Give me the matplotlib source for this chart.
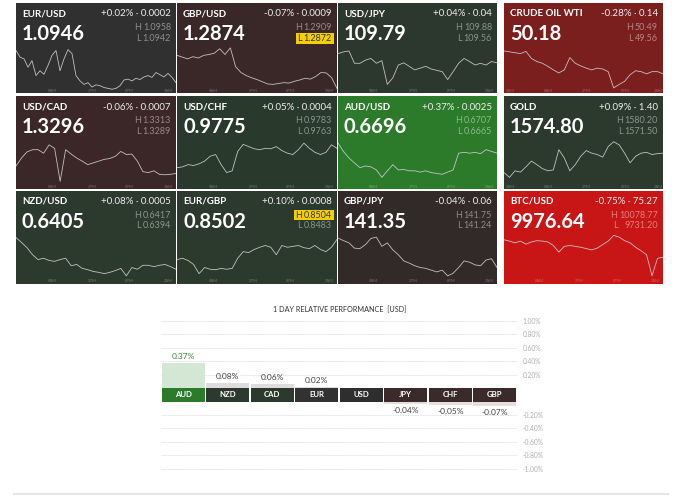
import numpy as np
import matplotlib
matplotlib.use("Agg")
import matplotlib.pyplot as plt
from matplotlib.patches import Rectangle
from matplotlib.lines import Line2D

plt.rcParams['font.family'] = ['Lato', 'DejaVu Sans']

W, H = 680, 499

# ---- tiles (row by row) ----
names = ['EUR/USD', 'GBP/USD', 'USD/JPY', 'CRUDE OIL WTI',
         'USD/CAD', 'USD/CHF', 'AUD/USD', 'GOLD',
         'NZD/USD', 'EUR/GBP', 'GBP/JPY', 'BTC/USD']
prices = ['1.0946', '1.2874', '109.79', '50.18',
          '1.3296', '0.9775', '0.6696', '1574.80',
          '0.6405', '0.8502', '141.35', '9976.64']
changes = ['+0.02% · 0.0002', '-0.07% · 0.0009', '+0.04% · 0.04', '-0.28% · 0.14',
           '-0.06% · 0.0007', '+0.05% · 0.0004', '+0.37% · 0.0025', '+0.09% · 1.40',
           '+0.08% · 0.0005', '+0.10% · 0.0008', '-0.04% · 0.06', '-0.75% · 75.27']
highs = ['1.0958', '1.2909', '109.88', '50.49',
         '1.3313', '0.9783', '0.6707', '1580.20',
         '0.6417', '0.8504', '141.75', '10078.77']
lows = ['1.0942', '1.2872', '109.56', '49.56',
        '1.3289', '0.9763', '0.6665', '1571.50',
        '0.6394', '0.8483', '141.24', '9731.20']
tile_colors = ['#303030', '#3a2828', '#2c372e', '#7a1e1e',
               '#3b2727', '#293a2c', '#2b7b2b', '#2b3a2d',
               '#2b3a2d', '#2b3a2d', '#322929', '#c81515']
highlight = {'GBP/USD': 'L', 'EUR/GBP': 'H'}

time_labels = ['8AM', '2PM', '8PM', '2AM']
time_pos = [0.225, 0.475, 0.71, 0.95]
time_labels_long = ['2AM', '8AM', '2PM', '8PM', '2AM']
time_pos_long = [0.04, 0.28, 0.52, 0.76, 0.97]

# sparkline levels (0 = bottom of band, 10 = top), evenly spaced over the day
spark_eurusd = [9.2, 7.7, 7.3, 5.4, 6.9, 3.5, 4.6, 3.8, 5.8, 8.1, 9.2, 4.6, 7.3, 9.4, 8.5,
                3.5, 2.3, 1.5, 1.9, 0.9, 1.4, 1.2, 0.8, 0.6, 0.4, 0.6, 1.2, 2.5, 2.7, 2.3,
                2.9, 2.6, 3.2, 3.5, 3.1, 4.2, 3.7, 3.2, 4.0, 3.1, 1.9]
spark_gbpusd = [8.1, 7.7, 7.3, 7.8, 7.5, 8.1, 8.3, 8.6, 9.6, 8.3, 9.8, 5.5, 4.2, 3.5, 3.0,
                2.6, 2.1, 1.6, 1.5, 1.7, 1.9, 1.8, 2.2, 2.5, 2.9, 2.7, 3.3, 4.2, 4.1, 3.0, 0.6]
spark_usdjpy = [8.5, 8.9, 9.1, 6.3, 6.3, 7.0, 7.4, 6.3, 6.9, 1.5, 3.0, 5.9, 6.4, 5.6, 4.8,
                5.2, 5.6, 5.0, 4.7, 4.4, 2.6, 4.4, 6.3, 7.4, 6.7, 5.9, 6.3, 5.9, 6.7, 6.4]
spark_crude = [9.1, 8.9, 8.7, 8.5, 9.0, 7.4, 6.7, 6.3, 5.6, 4.8, 4.1, 4.8, 7.6, 6.3, 5.7,
               5.2, 4.8, 5.2, 5.0, 4.4, 0.7, 1.5, 2.2, 3.7, 4.6, 4.4, 3.9, 4.4, 4.4, 3.9]
spark_usdcad = [4.1, 5.9, 7.3, 7.8, 7.8, 7.0, 8.9, 8.1, 0.6, 7.8, 6.8, 5.9, 5.2, 4.4, 4.8,
                5.2, 5.6, 5.8, 6.3, 7.4, 6.7, 6.8, 5.2, 2.8, 2.6, 3.0, 2.2, 2.1, 2.2, 2.4]
spark_usdchf = [3.7, 3.9, 4.4, 4.2, 4.6, 5.2, 6.3, 6.7, 4.4, 2.6, 3.0, 7.4, 9.0, 8.5, 8.0,
                7.8, 8.1, 8.0, 8.5, 7.6, 7.0, 6.7, 7.8, 9.3, 8.1, 7.2, 6.7, 7.2, 8.9, 8.1]
spark_audusd = [9.3, 7.4, 5.9, 4.8, 3.7, 4.1, 3.9, 3.2, 1.5, 3.0, 4.4, 3.2, 3.3, 3.0, 3.0,
                2.7, 3.0, 2.6, 2.4, 2.2, 2.7, 3.2, 7.0, 7.2, 7.0, 7.2, 6.9, 7.8, 7.4, 7.0]
spark_gold = [2.6, 1.5, 3.0, 2.7, 3.9, 5.2, 4.4, 3.5, 3.0, 3.2, 7.8, 5.9, 3.0, 4.4, 6.3,
              7.6, 7.0, 6.7, 6.1, 8.5, 9.6, 8.9, 7.0, 4.8, 6.3, 7.0, 7.2, 6.7, 6.9, 7.0]
spark_nzdusd = [9.3, 8.2, 7.0, 5.4, 4.3, 4.6, 4.1, 3.9, 4.3, 4.6, 2.9, 3.2, 2.3, 2.0, 1.6,
                1.4, 1.1, 1.4, 1.8, 2.3, 0.6, 2.5, 2.1, 3.0, 3.0, 2.7, 3.0, 3.2, 2.7, 2.1]
spark_eurgbp = [4.3, 4.6, 4.1, 3.2, 1.1, 2.5, 2.1, 2.0, 2.3, 2.1, 2.3, 4.6, 6.1, 5.9, 6.6,
                7.1, 7.5, 7.1, 5.4, 7.5, 7.1, 7.3, 7.5, 7.0, 6.8, 7.5, 6.6, 6.1, 7.1, 8.9]
spark_gbpjpy = [9.2, 8.6, 8.1, 6.9, 6.8, 7.7, 9.1, 9.4, 7.3, 8.1, 6.5, 5.4, 4.0, 3.5, 2.9,
                2.5, 2.3, 1.9, 1.5, 1.9, 0.6, 1.2, 2.5, 4.0, 3.7, 3.1, 2.9, 4.2, 4.5, 2.5]
spark_btc = [8.8, 8.5, 8.1, 8.5, 7.8, 8.3, 8.6, 8.5, 8.3, 7.5, 6.0, 7.3, 7.5, 7.3, 7.1,
             6.8, 6.5, 6.9, 7.7, 8.5, 9.8, 9.4, 8.6, 8.1, 7.1, 6.3, 5.4, 0.6, 4.6, 4.8]
sparks = [spark_eurusd, spark_gbpusd, spark_usdjpy, spark_crude,
          spark_usdcad, spark_usdchf, spark_audusd, spark_gold,
          spark_nzdusd, spark_eurgbp, spark_gbpjpy, spark_btc]

# ---- relative performance ----
cats = ['AUD', 'NZD', 'CAD', 'EUR', 'USD', 'JPY', 'CHF', 'GBP']
perf = [0.37, 0.08, 0.06, 0.02, 0.0, -0.04, -0.05, -0.07]
box_colors = ['#2b7b2b', '#2b3a2d', '#2b3a2d', '#323232', '#2e2e2e', '#3b2a2a', '#3a2a2a', '#3b2a2a']
perf_ticks = [0.2, 0.4, 0.6, 0.8, 1.0]


def px_rect(x, y, w, h):
    return [x / W, 1 - (y + h) / H, w / W, h / H]


fig = plt.figure(figsize=(W / 100, H / 100), dpi=100)
renderer = fig.canvas.get_renderer()

tile_left = [16, 177, 338, 504]
tile_width = [160, 160, 159, 159]
tile_top = [3, 96, 190.5]
tile_height = [90, 93, 93.5]

for k, name in enumerate(names):
    r, c = divmod(k, 4)
    x0, y0, w, h = tile_left[c], tile_top[r], tile_width[c], tile_height[r]
    ax = fig.add_axes(px_rect(x0, y0, w, h))
    ax.set_facecolor(tile_colors[k])
    ax.set_xlim(0, w)
    ax.set_ylim(h, 0)
    ax.set_xticks([])
    ax.set_yticks([])
    for s in ax.spines.values():
        s.set_visible(False)

    ax.text(6, 11, name, ha='left', va='center', fontsize=7, fontweight='bold', color='white')
    ax.text(w - 5, 11, changes[k], ha='right', va='center', fontsize=7, color='#eeeeee')
    ax.text(6, 31, prices[k], ha='left', va='center', fontsize=14.5, fontweight='bold', color='white')

    hl_y = {'H': 24.5, 'L': 35.5}
    vals = {'H': highs[k], 'L': lows[k]}
    texts = {}
    for key in ('H', 'L'):
        mark = highlight.get(name) == key
        col = '#333333' if mark else '#ffffff'
        al = 1.0 if mark else 0.45
        texts[key] = ax.text(w - 5, hl_y[key], vals[key], ha='right', va='center',
                             fontsize=6.5, color=col, alpha=al, zorder=3)
    maxw = max(t.get_window_extent(renderer=renderer).width for t in texts.values())
    for key in ('H', 'L'):
        mark = highlight.get(name) == key
        col = '#333333' if mark else '#ffffff'
        al = 1.0 if mark else 0.45
        lt = ax.text(w - 5 - maxw - 2, hl_y[key], key, ha='right', va='center',
                     fontsize=6.5, color=col, alpha=al, zorder=3)
        if mark:
            lw_ = lt.get_window_extent(renderer=renderer).width
            left = w - 5 - maxw - 2 - lw_ - 1.5
            ax.add_patch(Rectangle((left, hl_y[key] - 5.2), (w - 3.5) - left, 10.4,
                                   facecolor='#f5d000', edgecolor='none', zorder=2))

    if name in ('CRUDE OIL WTI', 'GOLD'):
        tl, tp = time_labels_long, time_pos_long
    else:
        tl, tp = time_labels, time_pos
    for lab, p in zip(tl, tp):
        ax.text(p * w, h - 2.5, lab, ha='center', va='center', fontsize=3,
                color='white', alpha=0.3)

    sp = ax.inset_axes([0, (h - 88) / h, 1, 44 / h])
    sp.patch.set_alpha(0)
    vals_sp = sparks[k]
    sp.plot(np.arange(len(vals_sp)), vals_sp, color='#d0d0d0', lw=0.6, alpha=0.9)
    sp.set_xlim(0, len(vals_sp) - 1)
    sp.set_ylim(0, 10)
    sp.axis('off')

# ---- performance chart ----
x = np.arange(len(cats))
pos_vals = [max(v, 0) for v in perf]
neg_vals = [min(v, 0) for v in perf]
bar_cols = ['#d4e7d4' if v >= 0.3 else ('#dddddd' if v > 0 else '#e8dddd') for v in perf]

zero_top, zero_bot = 388, 401.5
unit = 67
ax_pos = fig.add_axes(px_rect(161, zero_top - unit * 1.02, 356, unit * 1.02))
ax_neg = fig.add_axes(px_rect(161, zero_bot, 356, unit * 1.02))
ax_pos.bar(x, pos_vals, width=0.96, color=bar_cols, zorder=2)
ax_neg.bar(x, neg_vals, width=0.96, color=bar_cols, zorder=2)
ax_pos.set_ylim(0, 1.02)
ax_neg.set_ylim(-1.02, 0)
ax_pos.set_yticks(perf_ticks)
ax_neg.set_yticks([-t for t in perf_ticks])
for a in (ax_pos, ax_neg):
    a.set_xlim(-0.5, len(cats) - 0.5)
    a.set_xticks([])
    a.patch.set_alpha(0)
    for s in a.spines.values():
        s.set_visible(False)
    a.yaxis.tick_right()
    a.set_yticklabels([f'{t:.2f}%' for t in a.get_yticks()])
    a.tick_params(axis='y', length=0, pad=4, labelsize=4.8, labelcolor='#b0b0b0')
    a.grid(axis='y', linestyle=(0, (1, 1)), color='#d5d5d5', lw=0.6, zorder=0)
    a.set_axisbelow(True)

for i, v in enumerate(perf):
    if v > 0:
        ax_pos.annotate(f'{v:.2f}%', (i, v), xytext=(0, 2), textcoords='offset points',
                        ha='center', va='bottom', fontsize=6,
                        color='#3a8a3a' if i == 0 else '#444444')
    elif v < 0:
        ax_neg.annotate(f'{v:.2f}%', (i, v), xytext=(0, -2), textcoords='offset points',
                        ha='center', va='top', fontsize=6, color='#444444')

ax_band = fig.add_axes(px_rect(161, zero_top, 356, zero_bot - zero_top))
ax_band.bar(x, [1] * len(cats), width=0.96, color=box_colors)
ax_band.set_xlim(-0.5, len(cats) - 0.5)
ax_band.set_ylim(0, 1)
ax_band.axis('off')
for i, c in enumerate(cats):
    ax_band.text(i, 0.5, c, ha='center', va='center', fontsize=5.6,
                 fontweight='bold', color='white')

fig.text(340 / W, 1 - 310 / H, '1 DAY RELATIVE PERFORMANCE  [USD]', ha='center',
         va='center', fontsize=5.2, color='#333333')
fig.add_artist(Line2D([14 / W, 668 / W], [1 - 494 / H, 1 - 494 / H],
                      color='#e6e6e6', lw=1.5))

fig.savefig('out.png', dpi=100)
